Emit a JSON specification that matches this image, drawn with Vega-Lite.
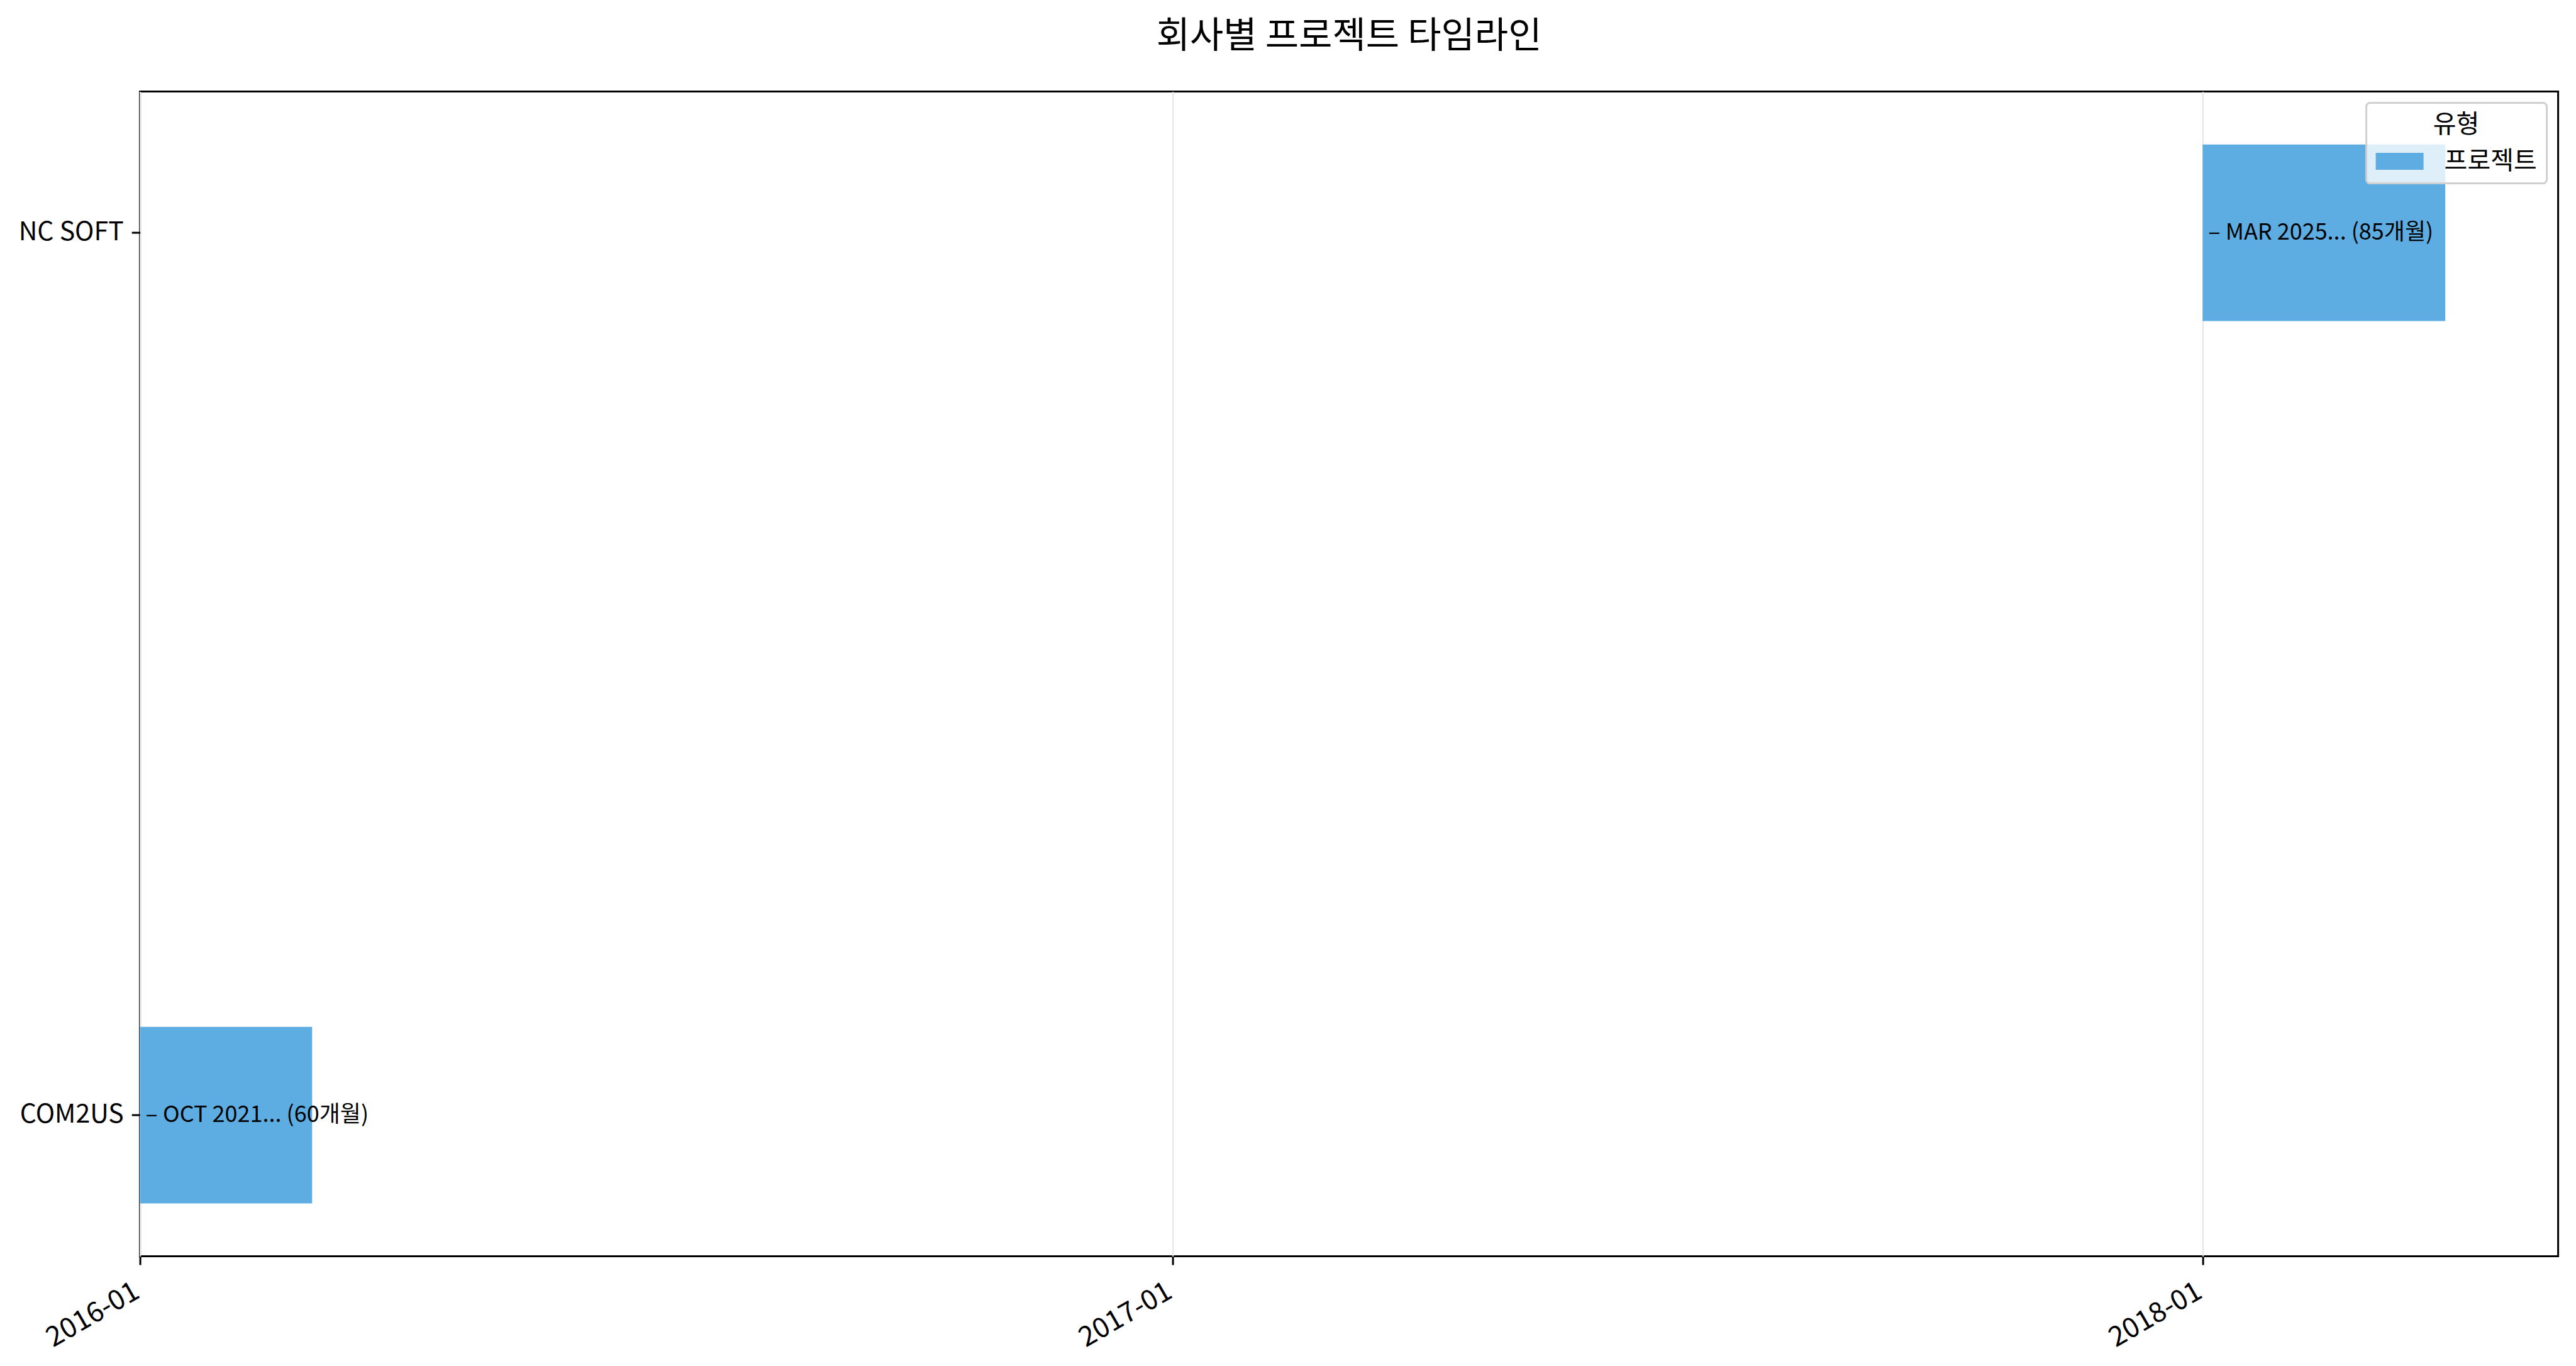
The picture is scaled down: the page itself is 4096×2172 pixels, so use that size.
{
  "$schema": "https://vega.github.io/schema/vega-lite/v6.json",
  "autosize": {"type": "none"},
  "width": 3845,
  "height": 1852,
  "padding": {"left": 222.6, "top": 145.6, "right": 28.4, "bottom": 174.4},
  "background": "white",
  "config": {
    "font": "Noto Sans CJK KR",
    "view": {"stroke": "#000000", "strokeWidth": 3},
    "axis": {"labelColor": "#000000", "tickColor": "#000000", "domain": false},
    "legend": {"strokeWidth": 3}
  },
  "title": {
    "text": "회사별 프로젝트 타임라인",
    "fontSize": 58,
    "fontWeight": "normal",
    "color": "#000000",
    "anchor": "middle",
    "frame": "group",
    "offset": 58
  },
  "data": {
    "values": [
      {"company": "COM2US", "start": "2016-01-01T00:00:00", "end": "2016-03-02T00:00:00", "label": "– OCT 2021... (60개월)", "유형": "프로젝트"},
      {"company": "NC SOFT", "start": "2018-01-01T00:00:00", "end": "2018-03-28T00:00:00", "label": "– MAR 2025... (85개월)", "유형": "프로젝트"}
    ]
  },
  "layer": [
    {
      "mark": {"type": "bar"},
      "encoding": {
        "y": {
          "field": "company",
          "type": "nominal",
          "sort": ["NC SOFT", "COM2US"],
          "scale": {"paddingInner": 0.8, "paddingOuter": 0.06},
          "axis": {
            "title": null,
            "labelFontSize": 41,
            "labelPadding": 13,
            "tickSize": 13.4,
            "tickWidth": 3,
            "grid": false
          }
        },
        "x": {
          "field": "start",
          "type": "temporal",
          "scale": {
            "domain": [
              {"year": 2016, "month": 1, "date": 1},
              {"year": 2018, "month": 5, "date": 7}
            ],
            "nice": false
          },
          "axis": {
            "title": null,
            "format": "%Y-%m",
            "values": [
              {"year": 2016, "month": 1, "date": 1},
              {"year": 2017, "month": 1, "date": 1},
              {"year": 2018, "month": 1, "date": 1}
            ],
            "labelFontSize": 44,
            "labelAngle": -30,
            "labelAlign": "right",
            "labelBaseline": "top",
            "labelPadding": 20,
            "labelOffset": -16,
            "tickSize": 13.4,
            "tickWidth": 3,
            "grid": true,
            "gridColor": "#e5e5e5",
            "gridWidth": 2
          }
        },
        "x2": {"field": "end"},
        "color": {
          "field": "유형",
          "type": "nominal",
          "scale": {"domain": ["프로젝트"], "range": ["#5DADE2"]},
          "legend": {
            "orient": "top-right",
            "offset": 18,
            "title": "유형",
            "titleFontSize": 40,
            "titleFontWeight": "normal",
            "titleColor": "#000000",
            "titleAnchor": "middle",
            "titlePadding": 0,
            "labelFontSize": 40,
            "labelColor": "#000000",
            "labelOffset": 33,
            "symbolType": "M-1,-0.355H1V0.355H-1Z",
            "symbolSize": 5776,
            "symbolStrokeWidth": 0,
            "symbolOpacity": 1,
            "padding": 15,
            "strokeColor": "#d0d0d0",
            "cornerRadius": 6,
            "fillColor": "rgba(255,255,255,0.8)"
          }
        }
      }
    },
    {
      "mark": {"type": "text", "align": "left", "baseline": "middle", "dx": 9, "fontSize": 36, "color": "#000000"},
      "encoding": {
        "y": {"field": "company", "type": "nominal", "sort": ["NC SOFT", "COM2US"]},
        "x": {"field": "start", "type": "temporal"},
        "text": {"field": "label"}
      }
    }
  ]
}
